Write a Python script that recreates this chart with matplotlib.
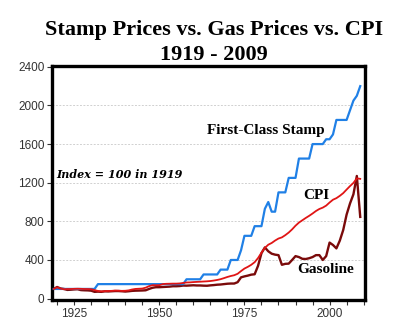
import matplotlib
matplotlib.use("Agg")
import matplotlib.pyplot as plt
from matplotlib.ticker import MultipleLocator

# --- data (index = 100 in 1919) ---
years = list(range(1919, 2010))

stamp = ([100] * 13 +                      # 1919-1931
         [150] * 26 +                      # 1932-1957
         [200] * 5 +                       # 1958-1962
         [250] * 5 +                       # 1963-1967
         [300] * 3 +                       # 1968-1970
         [400] * 3 +                       # 1971-1973
         [500, 650, 650, 650, 750, 750, 750,   # 1974-1980
          930, 1000, 900, 900, 1100, 1100, 1100,  # 1981-1987
          1250, 1250, 1250, 1450, 1450, 1450, 1450,  # 1988-1994
          1600, 1600, 1600, 1600, 1650, 1650, 1700,  # 1995-2001
          1850, 1850, 1850, 1850, 1950, 2050, 2100, 2200])  # 2002-2009

cpi = [100, 116, 103, 97, 99, 99, 101, 102, 101, 99,
       99, 97, 88, 79, 75, 77, 79, 80, 83, 82,
       80, 81, 85, 94, 100, 102, 104, 113, 129, 139,
       138, 139, 150, 153, 154, 155, 155, 157, 162, 167,
       168, 171, 173, 175, 177, 179, 182, 187, 193, 201,
       212, 224, 234, 242, 257, 285, 311, 329, 350, 377,
       420, 476, 525, 558, 576, 601, 622, 634, 657, 684,
       717, 755, 787, 811, 835, 857, 881, 907, 928, 942,
       963, 995, 1024, 1040, 1064, 1092, 1129, 1165, 1198, 1245,
       1240]

gas = [100, 120, 105, 100, 90, 92, 95, 97, 88, 86,
       85, 82, 70, 72, 70, 75, 74, 76, 78, 78,
       76, 73, 76, 80, 82, 83, 84, 86, 100, 112,
       118, 118, 120, 122, 124, 128, 128, 130, 135, 134,
       136, 138, 136, 136, 134, 133, 137, 140, 144, 146,
       150, 154, 156, 156, 170, 220, 230, 238, 248, 252,
       340, 470, 530, 490, 465, 455, 450, 350, 360, 362,
       400, 440, 430, 412, 410, 418, 430, 450, 450, 400,
       440, 580, 555, 520, 600, 710, 870, 985, 1080, 1270,
       846]

yticks = [0, 400, 800, 1200, 1600, 2000, 2400]
xlabels = [1925, 1950, 1975, 2000]

serif = ["Liberation Serif", "DejaVu Serif"]
wide_serif = ["DejaVu Serif"]
sans = ["Liberation Sans", "DejaVu Sans"]

fig = plt.figure(figsize=(4.0, 3.36), dpi=100)
ax = fig.add_axes([0.13, 0.107, 0.7825, 0.697])

ax.plot(years, stamp, color="#2080e6", linewidth=1.6, zorder=3)
ax.plot(years, cpi, color="#e01515", linewidth=1.3, zorder=4)
ax.plot(years, gas, color="#7a0a0a", linewidth=1.7, zorder=2)

ax.set_xlim(1918.5, 2010.4)
ax.set_ylim(-15, 2410)
ax.set_yticks(yticks)
ax.set_xticks(xlabels)
ax.xaxis.set_minor_locator(MultipleLocator(5))
ax.yaxis.grid(True, linestyle=(0, (2.5, 2)), color="#c4c4c4", linewidth=0.55)
ax.set_axisbelow(True)

for s in ax.spines.values():
    s.set_linewidth(2.4)
    s.set_color("black")
ax.tick_params(which="both", direction="out", length=3.5, width=0.8,
               color="#333333", labelsize=8.5, labelcolor="#333333", pad=2)
for lab in ax.get_xticklabels() + ax.get_yticklabels():
    lab.set_family(sans)

# --- annotations ---
ax.text(1964.0, 1740, "First-Class Stamp", family=serif, fontweight="bold",
        fontsize=11, va="center", ha="left")
ax.text(1992.2, 1070, "CPI", family=serif, fontweight="bold",
        fontsize=11, va="center", ha="left")
ax.text(1990.4, 298, "Gasoline", family=serif, fontweight="bold",
        fontsize=11, va="center", ha="left")
ax.text(1919.8, 1285, "Index = 100 in 1919", family=wide_serif, fontweight="bold",
        fontstyle="italic", fontsize=8, va="center", ha="left")

fig.text(0.535, 0.91, "Stamp Prices vs. Gas Prices vs. CPI", family=serif,
         fontweight="bold", fontsize=16, ha="center", va="center")
fig.text(0.535, 0.836, "1919 - 2009", family=serif,
         fontweight="bold", fontsize=16, ha="center", va="center")

fig.savefig("out.png", dpi=100)
